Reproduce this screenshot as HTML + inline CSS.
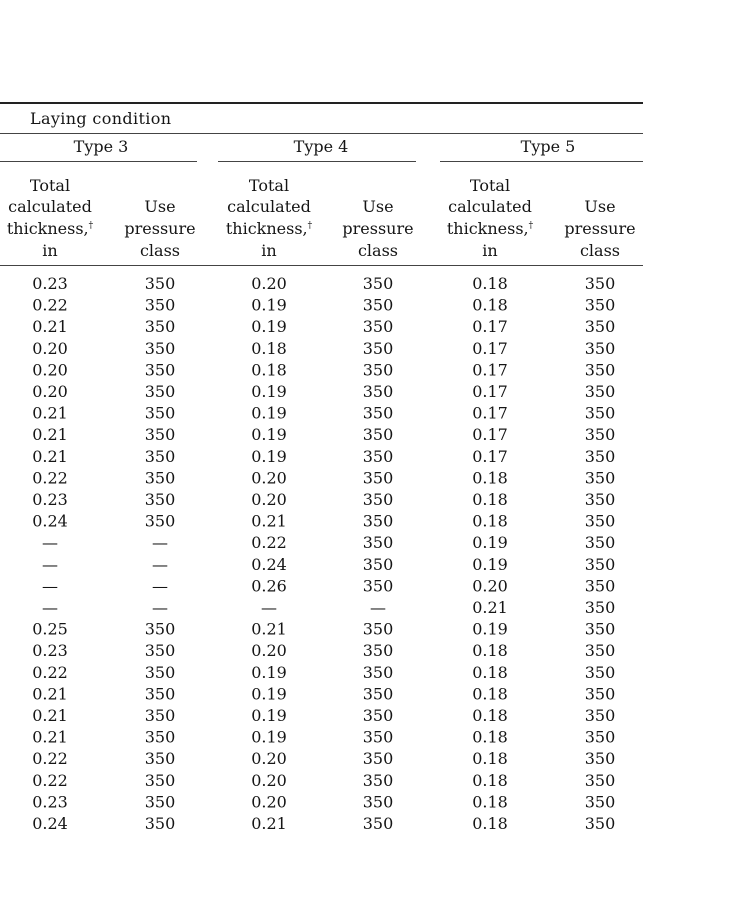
<!DOCTYPE html>
<html><head><meta charset="utf-8"><style>
html,body{margin:0;padding:0;background:#fff;width:738px;height:900px;overflow:hidden}
svg text{font-family:"DejaVu Serif","Liberation Serif",serif;font-size:16px;fill:#151515}
</style></head><body>
<svg width="738" height="900" xmlns="http://www.w3.org/2000/svg">
<line x1="0" y1="103" x2="643" y2="103" stroke="#222" stroke-width="2"/>
<line x1="0" y1="133.5" x2="643" y2="133.5" stroke="#444" stroke-width="1"/>
<line x1="0" y1="161.5" x2="197" y2="161.5" stroke="#444" stroke-width="1"/>
<line x1="218" y1="161.5" x2="416" y2="161.5" stroke="#444" stroke-width="1"/>
<line x1="440" y1="161.5" x2="643" y2="161.5" stroke="#444" stroke-width="1"/>
<line x1="0" y1="265.5" x2="643" y2="265.5" stroke="#444" stroke-width="1"/>
<text x="30" y="124" textLength="141">Laying condition</text>
<g text-anchor="middle">
<text x="101" y="152">Type 3</text><text x="321" y="152">Type 4</text><text x="548" y="152">Type 5</text>
<text x="50" y="191">Total</text><text x="50" y="212">calculated</text><text x="50" y="234">thickness,<tspan font-size="9" dy="-6">†</tspan></text><text x="50" y="256">in</text>
<text x="160" y="212">Use</text><text x="160" y="234">pressure</text><text x="160" y="256">class</text>
<text x="269" y="191">Total</text><text x="269" y="212">calculated</text><text x="269" y="234">thickness,<tspan font-size="9" dy="-6">†</tspan></text><text x="269" y="256">in</text>
<text x="378" y="212">Use</text><text x="378" y="234">pressure</text><text x="378" y="256">class</text>
<text x="490" y="191">Total</text><text x="490" y="212">calculated</text><text x="490" y="234">thickness,<tspan font-size="9" dy="-6">†</tspan></text><text x="490" y="256">in</text>
<text x="600" y="212">Use</text><text x="600" y="234">pressure</text><text x="600" y="256">class</text>
</g>
<g text-anchor="middle">
<text x="50" y="289">0.23</text><text x="160" y="289">350</text><text x="269" y="289">0.20</text><text x="378" y="289">350</text><text x="490" y="289">0.18</text><text x="600" y="289">350</text>
<text x="50" y="310.6">0.22</text><text x="160" y="310.6">350</text><text x="269" y="310.6">0.19</text><text x="378" y="310.6">350</text><text x="490" y="310.6">0.18</text><text x="600" y="310.6">350</text>
<text x="50" y="332.2">0.21</text><text x="160" y="332.2">350</text><text x="269" y="332.2">0.19</text><text x="378" y="332.2">350</text><text x="490" y="332.2">0.17</text><text x="600" y="332.2">350</text>
<text x="50" y="353.8">0.20</text><text x="160" y="353.8">350</text><text x="269" y="353.8">0.18</text><text x="378" y="353.8">350</text><text x="490" y="353.8">0.17</text><text x="600" y="353.8">350</text>
<text x="50" y="375.4">0.20</text><text x="160" y="375.4">350</text><text x="269" y="375.4">0.18</text><text x="378" y="375.4">350</text><text x="490" y="375.4">0.17</text><text x="600" y="375.4">350</text>
<text x="50" y="397">0.20</text><text x="160" y="397">350</text><text x="269" y="397">0.19</text><text x="378" y="397">350</text><text x="490" y="397">0.17</text><text x="600" y="397">350</text>
<text x="50" y="418.6">0.21</text><text x="160" y="418.6">350</text><text x="269" y="418.6">0.19</text><text x="378" y="418.6">350</text><text x="490" y="418.6">0.17</text><text x="600" y="418.6">350</text>
<text x="50" y="440.2">0.21</text><text x="160" y="440.2">350</text><text x="269" y="440.2">0.19</text><text x="378" y="440.2">350</text><text x="490" y="440.2">0.17</text><text x="600" y="440.2">350</text>
<text x="50" y="461.8">0.21</text><text x="160" y="461.8">350</text><text x="269" y="461.8">0.19</text><text x="378" y="461.8">350</text><text x="490" y="461.8">0.17</text><text x="600" y="461.8">350</text>
<text x="50" y="483.4">0.22</text><text x="160" y="483.4">350</text><text x="269" y="483.4">0.20</text><text x="378" y="483.4">350</text><text x="490" y="483.4">0.18</text><text x="600" y="483.4">350</text>
<text x="50" y="505">0.23</text><text x="160" y="505">350</text><text x="269" y="505">0.20</text><text x="378" y="505">350</text><text x="490" y="505">0.18</text><text x="600" y="505">350</text>
<text x="50" y="526.6">0.24</text><text x="160" y="526.6">350</text><text x="269" y="526.6">0.21</text><text x="378" y="526.6">350</text><text x="490" y="526.6">0.18</text><text x="600" y="526.6">350</text>
<text x="50" y="548.2">—</text><text x="160" y="548.2">—</text><text x="269" y="548.2">0.22</text><text x="378" y="548.2">350</text><text x="490" y="548.2">0.19</text><text x="600" y="548.2">350</text>
<text x="50" y="569.8">—</text><text x="160" y="569.8">—</text><text x="269" y="569.8">0.24</text><text x="378" y="569.8">350</text><text x="490" y="569.8">0.19</text><text x="600" y="569.8">350</text>
<text x="50" y="591.4">—</text><text x="160" y="591.4">—</text><text x="269" y="591.4">0.26</text><text x="378" y="591.4">350</text><text x="490" y="591.4">0.20</text><text x="600" y="591.4">350</text>
<text x="50" y="613">—</text><text x="160" y="613">—</text><text x="269" y="613">—</text><text x="378" y="613">—</text><text x="490" y="613">0.21</text><text x="600" y="613">350</text>
<text x="50" y="634.6">0.25</text><text x="160" y="634.6">350</text><text x="269" y="634.6">0.21</text><text x="378" y="634.6">350</text><text x="490" y="634.6">0.19</text><text x="600" y="634.6">350</text>
<text x="50" y="656.2">0.23</text><text x="160" y="656.2">350</text><text x="269" y="656.2">0.20</text><text x="378" y="656.2">350</text><text x="490" y="656.2">0.18</text><text x="600" y="656.2">350</text>
<text x="50" y="677.8">0.22</text><text x="160" y="677.8">350</text><text x="269" y="677.8">0.19</text><text x="378" y="677.8">350</text><text x="490" y="677.8">0.18</text><text x="600" y="677.8">350</text>
<text x="50" y="699.4">0.21</text><text x="160" y="699.4">350</text><text x="269" y="699.4">0.19</text><text x="378" y="699.4">350</text><text x="490" y="699.4">0.18</text><text x="600" y="699.4">350</text>
<text x="50" y="721">0.21</text><text x="160" y="721">350</text><text x="269" y="721">0.19</text><text x="378" y="721">350</text><text x="490" y="721">0.18</text><text x="600" y="721">350</text>
<text x="50" y="742.6">0.21</text><text x="160" y="742.6">350</text><text x="269" y="742.6">0.19</text><text x="378" y="742.6">350</text><text x="490" y="742.6">0.18</text><text x="600" y="742.6">350</text>
<text x="50" y="764.2">0.22</text><text x="160" y="764.2">350</text><text x="269" y="764.2">0.20</text><text x="378" y="764.2">350</text><text x="490" y="764.2">0.18</text><text x="600" y="764.2">350</text>
<text x="50" y="785.8">0.22</text><text x="160" y="785.8">350</text><text x="269" y="785.8">0.20</text><text x="378" y="785.8">350</text><text x="490" y="785.8">0.18</text><text x="600" y="785.8">350</text>
<text x="50" y="807.4">0.23</text><text x="160" y="807.4">350</text><text x="269" y="807.4">0.20</text><text x="378" y="807.4">350</text><text x="490" y="807.4">0.18</text><text x="600" y="807.4">350</text>
<text x="50" y="829">0.24</text><text x="160" y="829">350</text><text x="269" y="829">0.21</text><text x="378" y="829">350</text><text x="490" y="829">0.18</text><text x="600" y="829">350</text>
</g>
</svg>
</body></html>
